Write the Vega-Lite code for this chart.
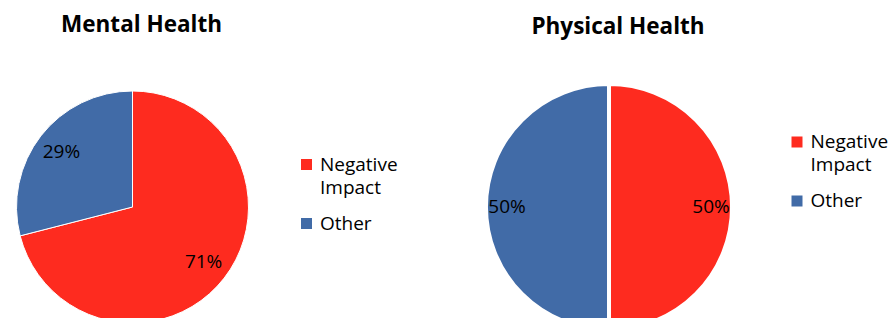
{
  "$schema": "https://vega.github.io/schema/vega-lite/v6.json",
  "padding": {"top": 13, "left": 0, "right": 0, "bottom": 0},
  "autosize": {"type": "pad"},
  "background": "white",
  "config": {
    "view": {"stroke": null},
    "font": "Open Sans",
    "style": {"guide-label": {"lineHeight": 23}},
    "title": {"font": "Open Sans", "fontSize": 22.5, "fontWeight": "bold", "color": "black", "anchor": "middle"},
    "legend": {
      "orient": "none",
      "title": null,
      "symbolType": "square",
      "symbolSize": 121,
      "symbolStrokeWidth": 0,
      "labelFont": "Open Sans",
      "labelFontSize": 19,
      "labelColor": "black",
      "labelOffset": 4,
      "labelLimit": 300,
      "rowPadding": 16,
      "padding": 0
    }
  },
  "bounds": "flush",
  "spacing": 221,
  "resolve": {"scale": {"color": "independent"}, "legend": {"color": "independent"}},
  "hconcat": [
    {
      "title": {"text": "Mental Health", "dx": 9, "dy": -2},
      "width": 265,
      "height": 330,
      "data": {"values": [
        {"category": "Negative Impact", "share": 0.71},
        {"category": "Other", "share": 0.29}
      ]},
      "encoding": {
        "theta": {"field": "share", "type": "quantitative", "stack": true},
        "order": {"field": "category", "type": "ordinal", "sort": "ascending"}
      },
      "layer": [
        {
          "mark": {"type": "arc", "radius": 116, "stroke": "white", "strokeWidth": 1},
          "encoding": {
            "color": {
              "field": "category", "type": "nominal",
              "scale": {"domain": ["Negative Impact", "Other"], "range": ["#FE2B1F", "#416BA7"]},
              "legend": {
                "legendX": 297, "legendY": 113,
                "labelExpr": "datum.label == 'Negative Impact' ? ['Negative', 'Impact'] : datum.label"
              }
            }
          }
        },
        {
          "mark": {"type": "text", "radius": 90, "fontSize": 19, "color": "black", "font": "Open Sans"},
          "encoding": {
            "detail": {"field": "category", "type": "nominal"},
            "text": {"field": "share", "type": "quantitative", "format": ".0%"}
          }
        }
      ]
    },
    {
      "title": {"text": "Physical Health", "dx": 9, "dy": 0},
      "width": 246,
      "height": 330,
      "data": {"values": [
        {"category": "Negative Impact", "share": 0.5},
        {"category": "Other", "share": 0.5}
      ]},
      "encoding": {
        "theta": {"field": "share", "type": "quantitative", "stack": true},
        "order": {"field": "category", "type": "ordinal", "sort": "ascending"}
      },
      "layer": [
        {
          "mark": {"type": "arc", "radius": 123, "stroke": "white", "strokeWidth": 4},
          "encoding": {
            "color": {
              "field": "category", "type": "nominal",
              "scale": {"domain": ["Negative Impact", "Other"], "range": ["#FE2B1F", "#416BA7"]},
              "legend": {
                "legendX": 301.5, "legendY": 90.5,
                "labelExpr": "datum.label == 'Negative Impact' ? ['Negative', 'Impact'] : datum.label"
              }
            }
          }
        },
        {
          "mark": {"type": "text", "radius": 102, "fontSize": 19, "color": "black", "font": "Open Sans"},
          "encoding": {
            "detail": {"field": "category", "type": "nominal"},
            "text": {"field": "share", "type": "quantitative", "format": ".0%"}
          }
        }
      ]
    }
  ]
}
